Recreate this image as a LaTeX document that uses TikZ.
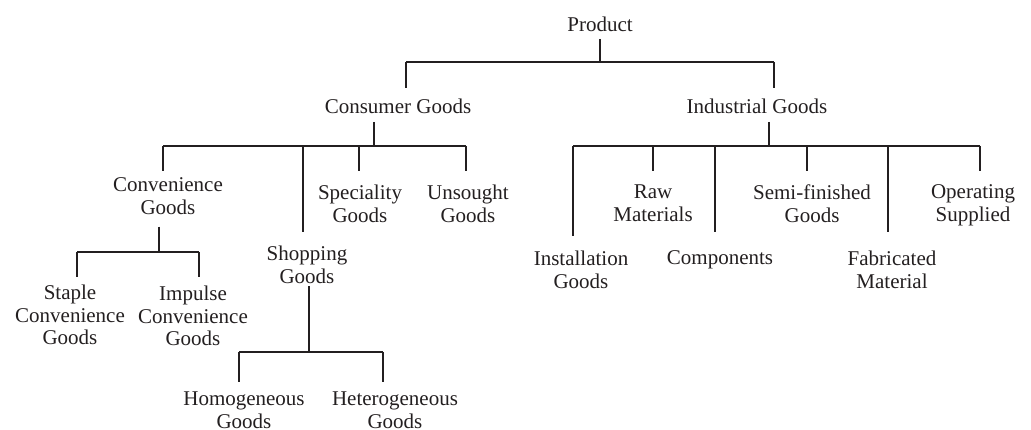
\documentclass[tikz,border=0pt]{standalone}
\usepackage{fontspec}
\setmainfont{Liberation Serif}
\usetikzlibrary{calc}
\definecolor{ink}{RGB}{35,31,32}
\tikzset{
    % Text of every entry in the tree
    item/.style={align=center, anchor=north, inner sep=0pt, outer sep=0pt,
        font=\fontsize{21}{22.5}\selectfont, text=ink},
%
    % Vertical strokes of the tree
    stem/.style={draw=ink, line width=2.8pt},
%
    % Horizontal bus lines joining siblings
    bus/.style={draw=ink, line width=2pt}}

\begin{document}
\begin{tikzpicture}[x=1pt, y=-1pt]
\useasboundingbox (0,0) rectangle (1031,430);

% Entries, placed by the top of their first line
\node[item] (product) at (600,17) {Product};
\node[item] (consumer) at (398,99) {Consumer Goods};
\node[item] (industrial) at (757,99) {Industrial Goods};

\node[item] (conv) at (168,178) {Convenience\\Goods};
\node[item] (shopping) at (307,246) {Shopping\\Goods};
\node[item] (speciality) at (360,185) {Speciality\\Goods};
\node[item] (unsought) at (468,185) {Unsought\\Goods};

\node[item] (staple) at (70,285) {Staple\\Convenience\\Goods};
\node[item] (impulse) at (193,286) {Impulse\\Convenience\\Goods};
\node[item] (homog) at (244,392) {Homogeneous\\Goods};
\node[item] (heterog) at (395,392) {Heterogeneous\\Goods};

\node[item] (install) at (581,251) {Installation\\Goods};
\node[item] (raw) at (653,185) {Raw\\Materials};
\node[item] (components) at (720,251) {Components};
\node[item] (semi) at (812,185) {Semi-finished\\Goods};
\node[item] (fabricated) at (892,251) {Fabricated\\Material};
\node[item] (operating) at (973,185) {Operating\\Supplied};

% Junctions of the buses
\coordinate (pbus) at (600,62);
\coordinate (cbus) at (374,146);
\coordinate (ibus) at (769,146);
\coordinate (vbus) at (159,252);
\coordinate (sbus) at (309,352);

% Product
\draw[stem, shorten <=7pt] (pbus |- product.south) -- (pbus);
\draw[bus] ([xshift=8pt]consumer.north |- pbus) -- ([xshift=17pt]industrial.north |- pbus);
\draw[stem] ([xshift=8pt]consumer.north |- pbus) -- ++(0,26);
\draw[stem] ([xshift=17pt]industrial.north |- pbus) -- ++(0,26);

% Consumer Goods
\draw[stem, shorten <=8pt] (cbus |- consumer.south) -- (cbus);
\draw[bus] ([xshift=-5pt]conv.north |- cbus) -- ([xshift=-2pt]unsought.north |- cbus);
\draw[stem] ([xshift=-5pt]conv.north |- cbus) -- ++(0,25);
\draw[stem] ([xshift=-1pt]speciality.north |- cbus) -- ++(0,25);
\draw[stem] ([xshift=-2pt]unsought.north |- cbus) -- ++(0,25);
\draw[stem, shorten >=14pt] ([xshift=-4pt]shopping.north |- cbus)
    -- ([xshift=-4pt]shopping.north);

% Convenience Goods
\draw[stem, shorten <=12pt] (vbus |- conv.south) -- (vbus);
\draw[bus] ([xshift=7pt]staple.north |- vbus) -- ([xshift=6pt]impulse.north |- vbus);
\draw[stem] ([xshift=7pt]staple.north |- vbus) -- ++(0,25);
\draw[stem] ([xshift=6pt]impulse.north |- vbus) -- ++(0,25);

% Shopping Goods
\draw[stem, shorten <=3pt] (sbus |- shopping.south) -- (sbus);
\draw[bus] ([xshift=-5pt]homog.north |- sbus) -- ([xshift=-12pt]heterog.north |- sbus);
\draw[stem] ([xshift=-5pt]homog.north |- sbus) -- ++(0,30);
\draw[stem] ([xshift=-12pt]heterog.north |- sbus) -- ++(0,30);

% Industrial Goods
\draw[stem, shorten <=8pt] (ibus |- industrial.south) -- (ibus);
\draw[bus] ([xshift=-8pt]install.north |- ibus) -- ([xshift=7pt]operating.north |- ibus);
\draw[stem] (raw.north |- ibus) -- ++(0,25);
\draw[stem] ([xshift=-5pt]semi.north |- ibus) -- ++(0,25);
\draw[stem] ([xshift=7pt]operating.north |- ibus) -- ++(0,25);
\draw[stem, shorten >=15pt] ([xshift=-8pt]install.north |- ibus)
    -- ([xshift=-8pt]install.north);
\draw[stem, shorten >=19pt] ([xshift=-5pt]components.north |- ibus)
    -- ([xshift=-5pt]components.north);
\draw[stem, shorten >=19pt] ([xshift=-4pt]fabricated.north |- ibus)
    -- ([xshift=-4pt]fabricated.north);

\end{tikzpicture}
\end{document}
